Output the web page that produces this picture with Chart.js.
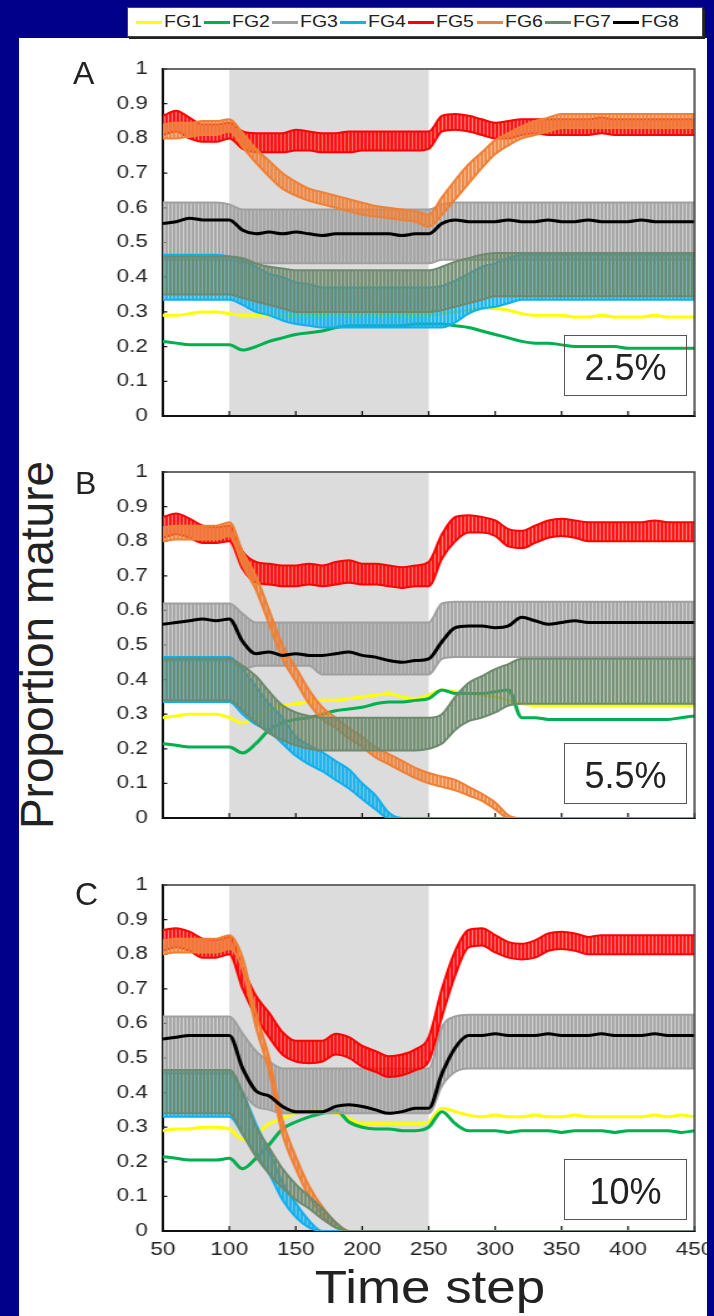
<!DOCTYPE html>
<html>
<head>
<meta charset="utf-8">
<script src="https://cdn.jsdelivr.net/npm/chart.js@4.4.1/dist/chart.umd.min.js"></script>
<style>
  html, body { margin: 0; padding: 0; }
  body { width: 714px; height: 1316px; background: #00008b; position: relative; overflow: hidden;
         font-family: "Liberation Sans", Arial, sans-serif; color: #222; }
  #sheet { position: absolute; left: 19px; top: 38px; width: 688px; height: 1278px; background: #fff; }
  canvas.panel { position: absolute; left: 19px; }
  #legend { position: absolute; left: 127px; top: 7px; width: 574px; height: 28px; background: #fff;
            border: 1px solid #444; box-shadow: 2px 2px 0 #222; }
  .item { position: absolute; top: 0; height: 28px; width: 66px; }
  .item i { position: absolute; left: 0; top: 13px; width: 26px; height: 3px; }
  .item span { position: absolute; left: 28px; top: 4px; font-size: 16px; line-height: 20px;
               transform: scaleX(1.22); transform-origin: left center; white-space: nowrap; }
  .letter { position: absolute; font-size: 32px; line-height: 32px; }
  .note { position: absolute; left: 564px; width: 121px; height: 59px; border: 1px solid #555;
          font-size: 36px; line-height: 63px; text-align: center; }
  #ytitle { position: absolute; left: -173px; top: 620px; width: 420px; height: 50px; line-height: 50px;
            font-size: 46px; text-align: center; transform: rotate(-90deg); white-space: nowrap; }
  #xtitle { position: absolute; left: 230px; top: 1262px; width: 400px; height: 50px; line-height: 50px;
            font-size: 46px; text-align: center; transform: scaleX(1.15); white-space: nowrap; }
</style>
</head>
<body>
<div id="sheet"></div>
<div id="legend"></div>
<div id="ytitle">Proportion mature</div>
<div id="xtitle">Time step</div>
<script>
// Proportion mature per functional group, three harvest rates (A 2.5%, B 5.5%, C 10%)
// bands (FG3-FG7) oscillate strongly, so they are kept as lower / upper envelope

const timeSteps = [50, 60, 70, 80, 90, 100, 110, 120, 130, 140,
  150, 160, 170, 180, 190, 200, 210, 220, 230, 240,
  250, 260, 270, 280, 290, 300, 310, 320, 330, 340,
  350, 360, 370, 380, 390, 400, 410, 420, 430, 440, 450];
const xTickLabels = ['50', '100', '150', '200', '250', '300', '350', '400', '450'];
const yTickLabels = ['0', '0.1', '0.2', '0.3', '0.4', '0.5', '0.6', '0.7', '0.8', '0.9', '1'];
const shadeRange = [100, 250];
const panelLetters = ['A', 'B', 'C'];
const panelNotes = ['2.5%', '5.5%', '10%'];
const seriesNames = ['FG1', 'FG2', 'FG3', 'FG4', 'FG5', 'FG6', 'FG7', 'FG8'];
const seriesColors = ['#ffff00', '#00b050', '#a0a0a0', '#0fb0ee', '#ff0000', '#ef8036', '#6e8a6e', '#000000'];

// --- panel A (2.5%) ---
const A_FG1 = [.29, .29, .295, .30, .30, .295, .29, .29, .29, .29,
  .29, .29, .29, .29, .29, .29, .29, .29, .29, .29,
  .29, .295, .30, .305, .31, .31, .305, .295, .29, .29,
  .29, .285, .285, .29, .285, .285, .285, .29, .285, .285, .285];
const A_FG2 = [.215, .21, .205, .205, .205, .205, .19, .20, .215, .225,
  .235, .24, .245, .255, .26, .26, .26, .26, .26, .265,
  .265, .265, .26, .255, .245, .235, .225, .215, .21, .21,
  .205, .20, .20, .20, .20, .195, .195, .195, .195, .195, .195];
const A_FG3_lo = [.45, .45, .45, .45, .45, .45, .44, .44, .44, .44,
  .44, .44, .44, .44, .44, .44, .44, .44, .44, .44,
  .44, .45, .45, .45, .45, .45, .45, .45, .45, .45,
  .45, .45, .45, .45, .45, .45, .45, .45, .45, .45, .45];
const A_FG3_hi = [.615, .615, .615, .615, .615, .61, .595, .595, .595, .595,
  .595, .595, .595, .595, .595, .595, .595, .595, .595, .595,
  .595, .61, .615, .615, .615, .615, .615, .615, .615, .615,
  .615, .615, .615, .615, .615, .615, .615, .615, .615, .615, .615];
const A_FG4_lo = [.335, .335, .335, .335, .335, .335, .32, .30, .29, .275,
  .265, .26, .255, .255, .255, .255, .255, .255, .255, .255,
  .255, .255, .27, .295, .31, .315, .325, .335, .335, .335,
  .335, .335, .335, .335, .335, .335, .335, .335, .335, .335, .335];
const A_FG4_hi = [.465, .465, .465, .465, .465, .46, .45, .43, .41, .40,
  .385, .38, .37, .37, .37, .37, .37, .37, .37, .37,
  .37, .375, .39, .41, .43, .44, .455, .465, .465, .465,
  .465, .465, .465, .465, .465, .465, .465, .465, .465, .465, .465];
const A_FG5_lo = [.81, .82, .80, .79, .79, .80, .77, .76, .76, .76,
  .765, .765, .76, .76, .76, .765, .765, .765, .765, .765,
  .77, .82, .825, .82, .81, .80, .80, .81, .815, .81,
  .81, .81, .81, .815, .81, .81, .81, .81, .81, .81, .81];
const A_FG5_hi = [.865, .88, .86, .84, .84, .845, .82, .815, .815, .815,
  .825, .82, .815, .815, .82, .82, .82, .82, .82, .82,
  .82, .865, .87, .865, .855, .845, .85, .855, .855, .855,
  .855, .855, .855, .86, .855, .855, .855, .855, .855, .855, .855];
const A_FG6_lo = [.80, .80, .805, .81, .81, .82, .775, .73, .69, .655,
  .635, .62, .61, .60, .59, .58, .575, .57, .565, .56,
  .545, .58, .625, .67, .715, .755, .78, .80, .81, .82,
  .83, .83, .83, .83, .83, .83, .83, .83, .83, .83, .83];
const A_FG6_hi = [.84, .845, .845, .85, .85, .855, .815, .77, .735, .70,
  .675, .655, .645, .635, .625, .615, .605, .60, .595, .59,
  .58, .63, .68, .725, .76, .795, .815, .835, .85, .86,
  .87, .87, .87, .87, .87, .87, .87, .87, .87, .87, .87];
const A_FG7_lo = [.35, .35, .35, .35, .35, .35, .34, .33, .32, .31,
  .30, .30, .30, .30, .30, .30, .30, .30, .30, .30,
  .30, .305, .315, .325, .335, .345, .345, .345, .345, .345,
  .345, .345, .345, .345, .345, .345, .345, .345, .345, .345, .345];
const A_FG7_hi = [.46, .46, .46, .46, .46, .46, .455, .44, .43, .425,
  .42, .42, .42, .42, .42, .42, .42, .42, .42, .42,
  .42, .43, .445, .455, .465, .47, .47, .47, .47, .47,
  .47, .47, .47, .47, .47, .47, .47, .47, .47, .47, .47];
const A_FG8 = [.555, .56, .57, .565, .565, .565, .535, .525, .53, .525,
  .53, .525, .52, .525, .525, .525, .525, .525, .52, .525,
  .525, .555, .565, .56, .56, .56, .565, .56, .56, .565,
  .56, .56, .565, .56, .56, .56, .565, .56, .56, .56, .56];

// --- panel B (5.5%) ---
const B_FG1 = [.29, .295, .30, .30, .30, .29, .275, .29, .315, .325,
  .33, .335, .34, .34, .345, .35, .355, .36, .35, .345,
  .355, .37, .365, .36, .355, .35, .34, .33, .325, .325,
  .325, .325, .325, .325, .325, .325, .325, .325, .325, .325, .325];
const B_FG2 = [.215, .21, .205, .205, .205, .205, .188, .215, .255, .275,
  .285, .29, .30, .31, .315, .32, .33, .335, .335, .34,
  .345, .37, .36, .36, .36, .365, .37, .29, .29, .285,
  .285, .285, .285, .285, .285, .285, .285, .285, .285, .29, .295];
const B_FG3_lo = [.455, .455, .455, .455, .455, .455, .43, .44, .44, .44,
  .44, .44, .415, .415, .415, .415, .415, .415, .415, .415,
  .415, .46, .465, .465, .465, .465, .465, .465, .465, .465,
  .465, .465, .465, .465, .465, .465, .465, .465, .465, .465, .465];
const B_FG3_hi = [.62, .62, .62, .62, .62, .62, .59, .565, .565, .565,
  .565, .565, .565, .565, .565, .565, .565, .565, .565, .565,
  .565, .62, .625, .625, .625, .625, .625, .625, .625, .625,
  .625, .625, .625, .625, .625, .625, .625, .625, .625, .625, .625];
const B_FG4_lo = [.335, .335, .335, .335, .335, .335, .30, .27, .25, .215,
  .18, .155, .135, .11, .085, .055, .025, 0, 0, 0,
  0, 0, 0, 0, 0, 0, 0, 0, 0, 0,
  0, 0, 0, 0, 0, 0, 0, 0, 0, 0, 0];
const B_FG4_hi = [.465, .465, .465, .465, .465, .465, .43, .38, .33, .29,
  .235, .21, .19, .165, .14, .10, .065, .015, 0, 0,
  0, 0, 0, 0, 0, 0, 0, 0, 0, 0,
  0, 0, 0, 0, 0, 0, 0, 0, 0, 0, 0];
const B_FG5_lo = [.81, .82, .81, .795, .795, .80, .72, .68, .675, .67,
  .67, .675, .67, .675, .68, .675, .675, .67, .665, .67,
  .67, .75, .80, .825, .825, .815, .785, .78, .795, .81,
  .815, .81, .80, .80, .80, .80, .80, .80, .80, .80, .80];
const B_FG5_hi = [.87, .88, .865, .845, .84, .845, .77, .74, .735, .73,
  .73, .735, .73, .74, .745, .735, .735, .73, .725, .73,
  .74, .82, .87, .875, .87, .86, .835, .83, .845, .86,
  .865, .86, .855, .855, .855, .855, .855, .86, .855, .855, .855];
const B_FG6_lo = [.80, .805, .805, .805, .805, .815, .73, .66, .56, .46,
  .395, .33, .285, .26, .23, .205, .175, .155, .135, .115,
  .10, .09, .08, .065, .05, .025, 0, 0, 0, 0,
  0, 0, 0, 0, 0, 0, 0, 0, 0, 0, 0];
const B_FG6_hi = [.84, .845, .845, .845, .845, .855, .77, .70, .60, .50,
  .435, .37, .32, .29, .26, .235, .205, .185, .165, .145,
  .13, .12, .11, .09, .07, .045, .008, 0, 0, 0,
  0, 0, 0, 0, 0, 0, 0, 0, 0, 0, 0];
const B_FG7_lo = [.34, .34, .34, .34, .34, .34, .31, .275, .245, .225,
  .21, .20, .195, .195, .195, .195, .195, .195, .195, .195,
  .20, .215, .255, .28, .29, .305, .325, .33, .33, .33,
  .33, .33, .33, .33, .33, .33, .33, .33, .33, .33, .33];
const B_FG7_hi = [.46, .46, .46, .46, .46, .46, .44, .41, .365, .325,
  .305, .295, .29, .29, .29, .29, .29, .29, .29, .29,
  .29, .30, .35, .39, .41, .43, .445, .46, .46, .46,
  .46, .46, .46, .46, .46, .46, .46, .46, .46, .46, .46];
const B_FG8 = [.56, .565, .57, .575, .57, .575, .51, .475, .48, .47,
  .475, .47, .47, .475, .48, .47, .465, .455, .45, .455,
  .46, .51, .55, .555, .555, .55, .555, .58, .57, .56,
  .565, .57, .565, .565, .565, .565, .565, .565, .565, .565, .565];

// --- panel C (10%) ---
const C_FG1 = [.29, .295, .295, .30, .30, .295, .265, .28, .31, .325,
  .34, .35, .35, .34, .325, .31, .31, .31, .31, .31,
  .315, .355, .345, .335, .33, .335, .33, .33, .335, .33,
  .33, .335, .33, .33, .33, .33, .33, .335, .33, .335, .33];
const C_FG2 = [.215, .21, .205, .205, .205, .21, .18, .21, .25, .295,
  .315, .33, .34, .35, .315, .30, .295, .295, .29, .29,
  .30, .345, .31, .29, .29, .29, .285, .29, .29, .29,
  .285, .29, .29, .29, .285, .29, .29, .29, .29, .285, .29];
const C_FG3_lo = [.455, .455, .455, .455, .455, .455, .40, .36, .35, .34,
  .34, .34, .34, .34, .34, .34, .34, .34, .34, .34,
  .34, .42, .46, .47, .47, .47, .47, .47, .47, .47,
  .47, .47, .47, .47, .47, .47, .47, .47, .47, .47, .47];
const C_FG3_hi = [.62, .62, .62, .62, .62, .62, .57, .52, .49, .47,
  .47, .47, .47, .47, .47, .47, .47, .47, .47, .47,
  .47, .59, .62, .625, .625, .625, .625, .625, .625, .625,
  .625, .625, .625, .625, .625, .625, .625, .625, .625, .625, .625];
const C_FG4_lo = [.33, .33, .33, .33, .33, .33, .28, .22, .165, .09,
  .04, .01, 0, 0, 0, 0, 0, 0, 0, 0,
  0, 0, 0, 0, 0, 0, 0, 0, 0, 0,
  0, 0, 0, 0, 0, 0, 0, 0, 0, 0, 0];
const C_FG4_hi = [.465, .465, .465, .465, .465, .465, .40, .31, .23, .14,
  .08, .03, 0, 0, 0, 0, 0, 0, 0, 0,
  0, 0, 0, 0, 0, 0, 0, 0, 0, 0,
  0, 0, 0, 0, 0, 0, 0, 0, 0, 0, 0];
const C_FG5_lo = [.81, .82, .81, .79, .79, .80, .70, .62, .56, .51,
  .49, .485, .49, .51, .50, .475, .46, .445, .45, .465,
  .49, .62, .74, .82, .825, .805, .79, .785, .79, .81,
  .815, .81, .80, .80, .80, .80, .80, .80, .80, .80, .80];
const C_FG5_hi = [.87, .875, .865, .845, .84, .85, .76, .68, .63, .575,
  .55, .55, .55, .57, .56, .535, .52, .505, .51, .525,
  .56, .70, .81, .87, .875, .855, .835, .83, .84, .86,
  .865, .86, .85, .855, .855, .855, .855, .855, .855, .855, .855];
const C_FG6_lo = [.80, .805, .805, .805, .805, .815, .755, .59, .46, .28,
  .18, .10, .045, .01, 0, 0, 0, 0, 0, 0,
  0, 0, 0, 0, 0, 0, 0, 0, 0, 0,
  0, 0, 0, 0, 0, 0, 0, 0, 0, 0, 0];
const C_FG6_hi = [.84, .845, .845, .845, .845, .855, .79, .63, .50, .32,
  .215, .13, .07, .025, 0, 0, 0, 0, 0, 0,
  0, 0, 0, 0, 0, 0, 0, 0, 0, 0,
  0, 0, 0, 0, 0, 0, 0, 0, 0, 0, 0];
const C_FG7_lo = [.34, .34, .34, .34, .34, .34, .28, .215, .165, .125,
  .09, .065, .035, .01, 0, 0, 0, 0, 0, 0,
  0, 0, 0, 0, 0, 0, 0, 0, 0, 0,
  0, 0, 0, 0, 0, 0, 0, 0, 0, 0, 0];
const C_FG7_hi = [.465, .465, .465, .465, .465, .465, .40, .30, .24, .18,
  .135, .10, .065, .025, 0, 0, 0, 0, 0, 0,
  0, 0, 0, 0, 0, 0, 0, 0, 0, 0,
  0, 0, 0, 0, 0, 0, 0, 0, 0, 0, 0];
const C_FG8 = [.555, .56, .565, .565, .565, .565, .47, .405, .39, .36,
  .345, .345, .345, .36, .365, .36, .35, .34, .345, .355,
  .355, .455, .53, .565, .565, .57, .565, .565, .565, .57,
  .565, .565, .565, .57, .565, .565, .565, .57, .565, .565, .565];

// the canvas is drawn narrower and stretched sideways, like the source figure's wide tick text
const CANVAS_W = 550;
const CSS_W = 688;

const panels = [
  { top: 40, height: 400, padTop: 29, padBottom: 24, xAxisH: 0, showX: false, letterTop: 57, letterLeft: 73, noteTop: 335,
    series: { FG1: A_FG1, FG2: A_FG2, FG3: [A_FG3_lo, A_FG3_hi], FG4: [A_FG4_lo, A_FG4_hi], FG5: [A_FG5_lo, A_FG5_hi],
              FG6: [A_FG6_lo, A_FG6_hi], FG7: [A_FG7_lo, A_FG7_hi], FG8: A_FG8 } },
  { top: 445, height: 395, padTop: 27, padBottom: 22, xAxisH: 0, showX: false, letterTop: 467, letterLeft: 75, noteTop: 743,
    series: { FG1: B_FG1, FG2: B_FG2, FG3: [B_FG3_lo, B_FG3_hi], FG4: [B_FG4_lo, B_FG4_hi], FG5: [B_FG5_lo, B_FG5_hi],
              FG6: [B_FG6_lo, B_FG6_hi], FG7: [B_FG7_lo, B_FG7_hi], FG8: B_FG8 } },
  { top: 858, height: 422, padTop: 27, padBottom: 14, xAxisH: 35, showX: true, letterTop: 878, letterLeft: 75, noteTop: 1159,
    series: { FG1: C_FG1, FG2: C_FG2, FG3: [C_FG3_lo, C_FG3_hi], FG4: [C_FG4_lo, C_FG4_hi], FG5: [C_FG5_lo, C_FG5_hi],
              FG6: [C_FG6_lo, C_FG6_hi], FG7: [C_FG7_lo, C_FG7_hi], FG8: C_FG8 } }
];

function pts(arr) {
  return arr.map((v, i) => ({ x: timeSteps[i], y: v }));
}

// vertical stripes stand in for the fast oscillation inside each band
function stripes(ctx, color) {
  const c = document.createElement('canvas');
  c.width = 3; c.height = 4;
  const g = c.getContext('2d');
  g.fillStyle = color;
  g.globalAlpha = 0.92; g.fillRect(0, 0, 2, 4);
  g.globalAlpha = 0.5; g.fillRect(2, 0, 1, 4);
  return ctx.createPattern(c, 'repeat');
}

function buildDatasets(series, ctx) {
  const ds = [];
  seriesNames.forEach((name, k) => {
    const color = seriesColors[k];
    const base = (8 - k) * 3;   // FG1 drawn first, FG8 on top
    const s = series[name];
    if (Array.isArray(s[0])) {
      ds.push({ label: name, data: pts(s[0]), borderColor: color, borderWidth: 2, order: base, fill: false });
      ds.push({ label: name, data: pts(s[1]), borderColor: color, borderWidth: 2, order: base + 1,
                fill: '-1', backgroundColor: stripes(ctx, color) });
    } else {
      ds.push({ label: name, data: pts(s), borderColor: color, borderWidth: 3, order: base, fill: false });
    }
  });
  return ds;
}

const panelDecor = {
  id: 'panelDecor',
  beforeDatasetsDraw(chart) {
    const { ctx, chartArea: a, scales: { x, y } } = chart;
    ctx.save();
    ctx.fillStyle = '#dcdcdc';
    const x0 = x.getPixelForValue(shadeRange[0]);
    const x1 = x.getPixelForValue(shadeRange[1]);
    ctx.fillRect(x0, a.top + 1, x1 - x0, a.bottom - a.top - 2);
    // short inward tick marks
    ctx.strokeStyle = '#111';
    ctx.lineWidth = 1.2;
    ctx.beginPath();
    y.ticks.forEach(t => {
      const py = y.getPixelForValue(t.value);
      ctx.moveTo(a.left, py); ctx.lineTo(a.left + 3.5, py);
    });
    x.ticks.forEach(t => {
      const px = x.getPixelForValue(t.value);
      ctx.moveTo(px, a.bottom); ctx.lineTo(px, a.bottom - 5);
    });
    ctx.stroke();
    ctx.restore();
  },
  afterDatasetsDraw(chart) {
    const { ctx, chartArea: a } = chart;
    ctx.save();
    ctx.strokeStyle = '#3a3a3a';
    ctx.lineWidth = 1.5;
    ctx.beginPath();
    ctx.moveTo(a.left, a.top); ctx.lineTo(a.right, a.top); ctx.lineTo(a.right, a.bottom);
    ctx.stroke();
    ctx.restore();
  }
};

const tickFont = { family: 'Liberation Sans', size: 18 };

panels.forEach((p, idx) => {
  const canvas = document.createElement('canvas');
  canvas.className = 'panel';
  canvas.width = CANVAS_W;
  canvas.height = p.height;
  canvas.style.top = p.top + 'px';
  canvas.style.width = CSS_W + 'px';
  canvas.style.height = p.height + 'px';
  document.body.appendChild(canvas);
  const ctx = canvas.getContext('2d');

  new Chart(ctx, {
    type: 'line',
    data: { datasets: buildDatasets(p.series, ctx) },
    options: {
      responsive: false,
      animation: false,
      devicePixelRatio: 1,
      layout: { padding: { top: p.padTop, bottom: p.padBottom, left: 0, right: 10 } },
      plugins: { legend: { display: false }, tooltip: { enabled: false } },
      elements: { point: { radius: 0 }, line: { cubicInterpolationMode: 'monotone' } },
      scales: {
        x: {
          type: 'linear', min: 50, max: 450,
          grid: { display: false, drawTicks: false },
          border: { display: true, color: '#111', width: 2 },
          ticks: {
            display: p.showX, stepSize: 50, autoSkip: false, maxRotation: 0, padding: 8,
            color: '#222', font: tickFont,
            callback: (v, i) => xTickLabels[i]
          },
          afterFit: s => { s.height = p.xAxisH; s.paddingLeft = 0; s.paddingRight = 0; }
        },
        y: {
          min: 0, max: 1,
          grid: { display: false, drawTicks: false },
          border: { display: true, color: '#111', width: 2 },
          ticks: {
            stepSize: 0.1, autoSkip: false, padding: 12, color: '#262626', font: tickFont,
            callback: (v, i) => yTickLabels[i]
          },
          afterFit: s => { s.width = 115; s.paddingTop = 0; s.paddingBottom = 0; }
        }
      }
    },
    plugins: [panelDecor]
  });

  const letter = document.createElement('div');
  letter.className = 'letter';
  letter.textContent = panelLetters[idx];
  letter.style.left = p.letterLeft + 'px';
  letter.style.top = p.letterTop + 'px';
  document.body.appendChild(letter);

  const note = document.createElement('div');
  note.className = 'note';
  note.textContent = panelNotes[idx];
  note.style.top = p.noteTop + 'px';
  document.body.appendChild(note);
});

// shared legend across the top
const legend = document.getElementById('legend');
seriesNames.forEach((name, k) => {
  const item = document.createElement('div');
  item.className = 'item';
  item.style.left = (8 + k * 68.1) + 'px';
  item.innerHTML = '<i style="background:' + seriesColors[k] + '"></i><span>' + name + '</span>';
  legend.appendChild(item);
});
</script>
</body>
</html>
